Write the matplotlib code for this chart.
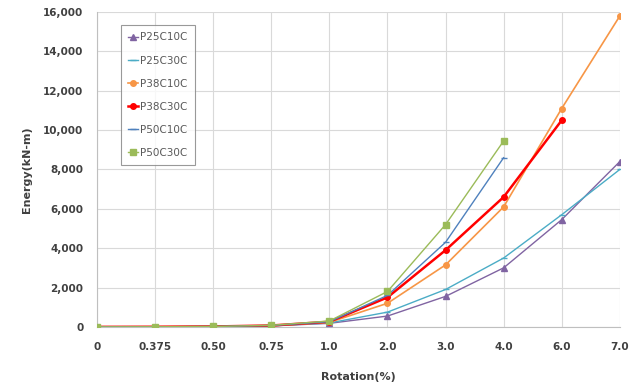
import matplotlib
matplotlib.use("Agg")
import matplotlib.pyplot as plt
from matplotlib.ticker import FuncFormatter, MultipleLocator

rotation_labels = ["0", "0.375", "0.50", "0.75", "1.0", "2.0", "3.0", "4.0", "6.0", "7.0"]

p25c10c = [0, 5, 15, 50, 180, 550, 1550, 3000, 5450, 8400]
p25c30c = [0, 5, 15, 55, 200, 750, 1900, 3500, 5700, 8000]
p38c10c = [0, 5, 20, 60, 230, 1200, 3150, 6100, 11100, 15800]
p38c30c = [0, 5, 20, 70, 260, 1500, 3900, 6600, 10500]
p50c10c = [0, 5, 20, 70, 260, 1600, 4300, 8600]
p50c30c = [0, 5, 20, 80, 300, 1800, 5200, 9450]

series = [
    ("P25C10C", p25c10c, "#8064A2", "^", 4, 1.0),
    ("P25C30C", p25c30c, "#4BACC6", "_", 5, 1.0),
    ("P38C10C", p38c10c, "#F79646", "o", 4, 1.2),
    ("P38C30C", p38c30c, "#FF0000", "o", 4, 1.8),
    ("P50C10C", p50c10c, "#4F81BD", "_", 5, 1.0),
    ("P50C30C", p50c30c, "#9BBB59", "s", 4, 1.0),
]

fig = plt.figure(figsize=(6.35, 3.91), dpi=100)
ax = fig.add_axes([0.153, 0.164, 0.823, 0.805])

for name, vals, color, marker, ms, lw in series:
    xs = list(range(len(vals)))
    ax.plot(xs, vals, color=color, marker=marker, markersize=ms, linewidth=lw,
            markeredgewidth=1.0, label=name, zorder=3)

ax.set_xlim(0, len(rotation_labels) - 1)
ax.set_ylim(0, 16000)
ax.set_xticks(range(len(rotation_labels)))
ax.set_xticklabels(rotation_labels)
ax.yaxis.set_major_locator(MultipleLocator(2000))
ax.yaxis.set_major_formatter(FuncFormatter(lambda v, p: f"{int(v):,}"))

ax.grid(True, color="#d9d9d9", linewidth=0.8, zorder=0)
for s in ["top", "right"]:
    ax.spines[s].set_visible(False)
for s in ["left", "bottom"]:
    ax.spines[s].set_color("#bfbfbf")
ax.tick_params(length=0, labelsize=7.5, labelcolor="#404040", pad=11)
for lbl in ax.get_xticklabels() + ax.get_yticklabels():
    lbl.set_fontweight("bold")
ax.tick_params(axis="y", pad=10)

ax.set_ylabel("Energy(kN-m)", fontsize=8, fontweight="bold", color="#404040", labelpad=8)
ax.set_xlabel("Rotation(%)", fontsize=8, fontweight="bold", color="#404040", labelpad=14)

leg = ax.legend(loc="upper left", bbox_to_anchor=(0.035, 0.975), fontsize=7.5,
                frameon=True, fancybox=False, handlelength=1.0, labelspacing=1.25,
                handletextpad=0.2, borderpad=0.7, labelcolor="#595959")
leg.get_frame().set_edgecolor("#808080")
leg.get_frame().set_linewidth(0.8)

fig.savefig("out.png", dpi=100)
